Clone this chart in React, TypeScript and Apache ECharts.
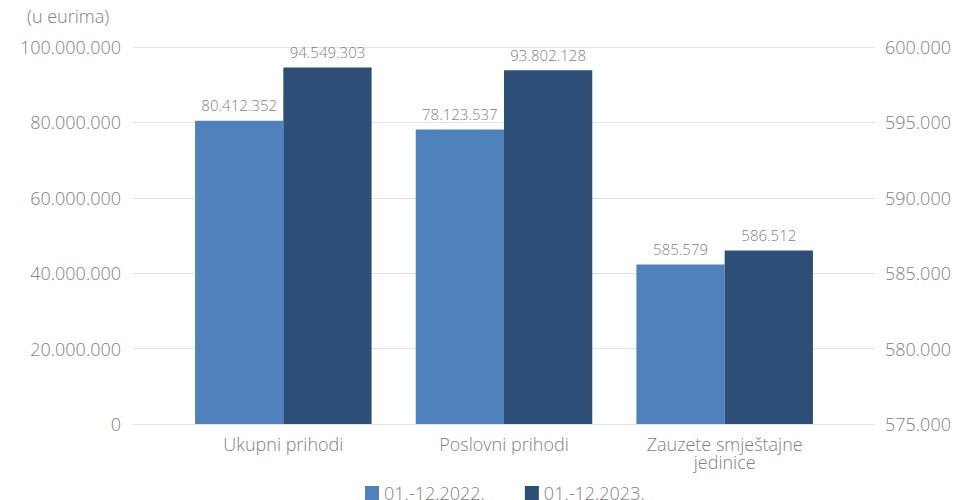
import React, { useEffect, useRef } from "react";
import * as echarts from "echarts";

const categories = ["Ukupni prihodi", "Poslovni prihodi", "Zauzete smještajne\njedinice"];
const seriesNames = ["01.-12.2022.", "01.-12.2023."];
const values2022Left = [80412352, 78123537, "-"];
const values2023Left = [94549303, 93802128, "-"];
const values2022Right = ["-", "-", 585579];
const values2023Right = ["-", "-", 586512];
const unitLabel = "(u eurima)";

const FONT = "'Open Sans', 'Noto Sans', sans-serif";
const GRAY = "#7f7f7f";
const C1 = "#4f81bd";
const C2 = "#2c4e77";

function fmt(v: number) {
  return String(Math.round(v)).replace(/\B(?=(\d{3})+(?!\d))/g, ".");
}

export default function App() {
  const ref = useRef<HTMLDivElement>(null);
  useEffect(() => {
    const chart = echarts.init(ref.current!, null, { renderer: "svg" });
    const labelOpt = {
      show: true,
      position: "top",
      distance: 8,
      color: GRAY,
      fontFamily: FONT,
      fontWeight: 300,
      fontSize: 15,
      formatter: (p: any) => fmt(p.value),
    };
    chart.setOption({
      animation: false,
      backgroundColor: "#ffffff",
      textStyle: { fontFamily: FONT },
      graphic: [
        {
          type: "text",
          left: 27,
          top: 7,
          style: { text: unitLabel, fill: GRAY, font: `300 18px ${FONT}` },
        },
      ],
      legend: {
        left: 360,
        top: 479,
        itemWidth: 14,
        itemHeight: 14,
        itemGap: 40,
        icon: "rect",
        data: seriesNames,
        textStyle: { color: GRAY, fontFamily: FONT, fontWeight: 300, fontSize: 18 },
      },
      grid: [
        { left: 133, right: 81, top: 47, bottom: 76 },
        { left: 173, right: 121, top: 47, bottom: 76 },
      ],
      xAxis: [
        { type: "category", gridIndex: 0, data: categories, show: false },
        {
          type: "category",
          gridIndex: 1,
          data: categories,
          axisLine: { show: false },
          axisTick: { show: false },
          axisLabel: {
            color: GRAY,
            fontFamily: FONT,
            fontWeight: 300,
            fontSize: 18,
            lineHeight: 18,
            margin: 11,
            interval: 0,
          },
        },
        { type: "category", gridIndex: 1, data: categories, show: false },
      ],
      yAxis: [
        {
          type: "value",
          gridIndex: 0,
          position: "left",
          min: 0,
          max: 100000000,
          interval: 20000000,
          axisLine: { show: false },
          axisTick: { show: false },
          splitLine: { lineStyle: { color: "#e3e3e3", width: 1 } },
          axisLabel: {
            color: GRAY,
            fontFamily: FONT,
            fontWeight: 300,
            fontSize: 18,
            margin: 12,
            formatter: (v: number) => fmt(v),
          },
        },
        {
          type: "value",
          gridIndex: 0,
          position: "right",
          min: 575000,
          max: 600000,
          interval: 5000,
          axisLine: { show: false },
          axisTick: { show: false },
          splitLine: { show: false },
          axisLabel: {
            color: GRAY,
            fontFamily: FONT,
            fontWeight: 300,
            fontSize: 18,
            margin: 10,
            formatter: (v: number) => fmt(v),
          },
        },
        { type: "value", gridIndex: 1, min: 0, max: 100000000, show: false, splitLine: { show: false } },
        { type: "value", gridIndex: 1, min: 575000, max: 600000, show: false, splitLine: { show: false } },
      ],
      series: [
        {
          name: seriesNames[0],
          type: "bar",
          xAxisIndex: 1,
          yAxisIndex: 2,
          data: values2022Left,
          barGap: "0%",
          barCategoryGap: "20%",
          itemStyle: { color: C1 },
          label: labelOpt,
        },
        {
          name: seriesNames[1],
          type: "bar",
          xAxisIndex: 1,
          yAxisIndex: 2,
          data: values2023Left,
          barGap: "0%",
          barCategoryGap: "20%",
          itemStyle: { color: C2 },
          label: labelOpt,
        },
        {
          name: seriesNames[0],
          type: "bar",
          xAxisIndex: 2,
          yAxisIndex: 3,
          data: values2022Right,
          barGap: "0%",
          barCategoryGap: "20%",
          clip: true,
          itemStyle: { color: C1 },
          label: labelOpt,
        },
        {
          name: seriesNames[1],
          type: "bar",
          xAxisIndex: 2,
          yAxisIndex: 3,
          data: values2023Right,
          barGap: "0%",
          barCategoryGap: "20%",
          clip: true,
          itemStyle: { color: C2 },
          label: labelOpt,
        },
      ],
    });
    return () => chart.dispose();
  }, []);
  return (
    <div
      ref={ref}
      style={{ position: "absolute", left: 0, top: 0, width: 956, height: 500 }}
    />
  );
}
